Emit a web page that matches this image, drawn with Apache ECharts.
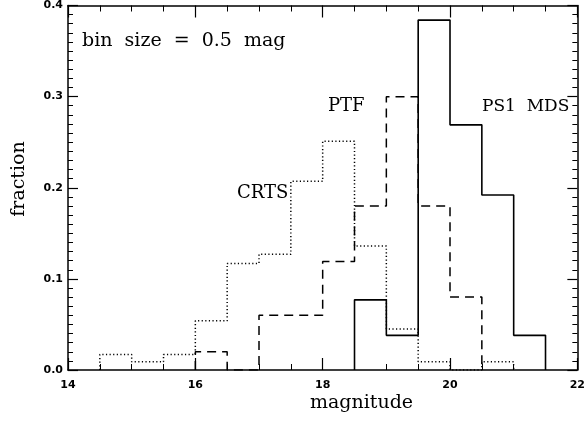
<!DOCTYPE html>
<html><head><meta charset="utf-8">
<script src="https://cdn.jsdelivr.net/npm/echarts@6/dist/echarts.min.js"></script>
<style>html,body{margin:0;padding:0;background:#fff}#c{width:588px;height:421px}</style>
</head><body><div id="c"></div>
<script>
// fractions per 0.5-mag bin, starting at the given left bin edge
var crtsStart = 14.5;
var crtsValues = [0.017,0.009,0.017,0.054,0.117,0.127,0.207,0.251,0.136,0.045,0.009,0.0,0.009];
var ptfStart = 16.0;
var ptfValues = [0.020,0.0,0.060,0.060,0.119,0.180,0.300,0.180,0.080];
var ps1Start = 18.5;
var ps1Values = [0.077,0.038,0.384,0.269,0.192,0.038];
var binSize = 0.5;
var xTicks = [14,16,18,20,22];
var yTicks = [0.0,0.1,0.2,0.3,0.4];
var seriesNames = ['CRTS','PTF','PS1  MDS'];

function stepData(start, vals){
  var d = [[start, 0]];
  for (var i=0;i<vals.length;i++) d.push([start + i*binSize, vals[i]]);
  d.push([start + vals.length*binSize, 0]);
  return d;
}
var chart = echarts.init(document.getElementById('c'), null, {renderer:'canvas'});
var serif = '"DejaVu Serif", "Liberation Serif", serif';
var tickFont = '"DejaVu Sans", sans-serif';
var axisCommon = {
  axisLine:{show:true, onZero:false, lineStyle:{color:'#000', width:1.5}},
  splitLine:{show:false}
};
chart.setOption({
  animation:false,
  backgroundColor:'#fff',
  grid:{left:68, right:6, top:5, bottom:51, containLabel:false},
  xAxis:[
    Object.assign({type:'value', min:14, max:22, interval:2, position:'bottom',
      axisTick:{inside:true, length:12, lineStyle:{color:'#000', width:1.2}},
      minorTick:{show:true, splitNumber:4, length:6, lineStyle:{color:'#000', width:1}},
      axisLabel:{fontFamily:tickFont, fontWeight:'bold', fontSize:11, color:'#000', margin:10,
        formatter:function(v){return xTicks.indexOf(v)>=0 ? String(v) : '';}}
    }, axisCommon),
    Object.assign({type:'value', min:14, max:22, interval:2, position:'top',
      axisTick:{inside:true, length:12, lineStyle:{color:'#000', width:1.2}},
      minorTick:{show:true, splitNumber:4, length:6, lineStyle:{color:'#000', width:1}},
      axisLabel:{show:false}
    }, axisCommon)
  ],
  yAxis:[
    Object.assign({type:'value', min:0, max:0.4, interval:0.1, position:'left',
      axisTick:{inside:true, length:10, lineStyle:{color:'#000', width:1.2}},
      minorTick:{show:true, splitNumber:10, length:5, lineStyle:{color:'#000', width:1}},
      axisLabel:{fontFamily:tickFont, fontWeight:'bold', fontSize:11, color:'#000', margin:5,
        formatter:function(v){return v.toFixed(1);}}
    }, axisCommon),
    Object.assign({type:'value', min:0, max:0.4, interval:0.1, position:'right',
      axisTick:{inside:true, length:10, lineStyle:{color:'#000', width:1.2}},
      minorTick:{show:true, splitNumber:10, length:5, lineStyle:{color:'#000', width:1}},
      axisLabel:{show:false}
    }, axisCommon)
  ],
  series:[
    {name:'CRTS', type:'line', step:'end', symbol:'none', data:stepData(crtsStart, crtsValues),
      lineStyle:{color:'#000', width:1.5, type:[1.2,2.4]}},
    {name:'PTF', type:'line', step:'end', symbol:'none', data:stepData(ptfStart, ptfValues),
      lineStyle:{color:'#000', width:1.5, type:[9,6]}},
    {name:'PS1 MDS', type:'line', step:'end', symbol:'none', data:stepData(ps1Start, ps1Values),
      lineStyle:{color:'#000', width:1.6, type:'solid'}}
  ],
  graphic:[
    {type:'text', left:82, top:32, style:{text:'bin  size  =  0.5  mag', font:'19px '+serif, fill:'#000'}},
    {type:'text', left:237, top:184, style:{text:seriesNames[0], font:'18px '+serif, fill:'#000'}},
    {type:'text', left:328, top:97, style:{text:seriesNames[1], font:'18px '+serif, fill:'#000'}},
    {type:'text', left:482, top:98, style:{text:seriesNames[2], font:'17px '+serif, fill:'#000'}},
    {type:'text', left:310, top:394, style:{text:'magnitude', font:'19px '+serif, fill:'#000'}},
    {type:'text', x:19, y:179, rotation:Math.PI/2,
      style:{text:'fraction', font:'19px '+serif, fill:'#000', align:'center', verticalAlign:'middle'}}
  ]
});
</script></body></html>
